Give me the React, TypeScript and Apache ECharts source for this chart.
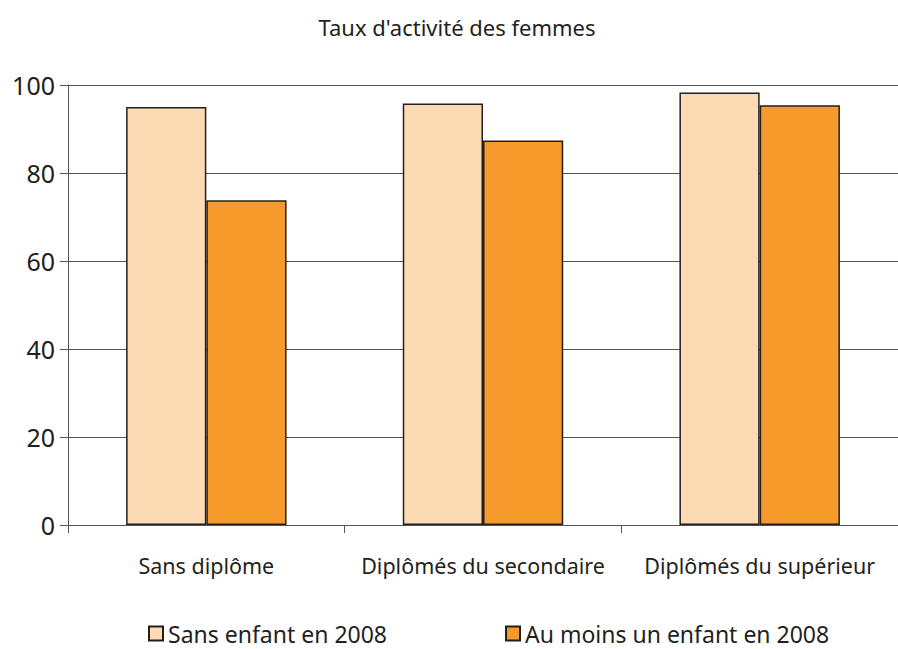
import React, { useEffect, useRef } from "react";
import * as echarts from "echarts";

const categories = ["Sans diplôme", "Diplômés du secondaire", "Diplômés du supérieur"];
const seriesNames = ["Sans enfant en 2008", "Au moins un enfant en 2008"];
const sansEnfant = [95.0, 95.8, 98.3];
const auMoinsUn = [73.8, 87.4, 95.4];
const yTicks = { min: 0, max: 100, interval: 20 };

export default function App() {
  const ref = useRef<HTMLDivElement>(null);
  useEffect(() => {
    const chart = echarts.init(ref.current!, null, { renderer: "svg" });
    const font = "'Noto Sans', sans-serif";
    chart.setOption({
      animation: false,
      backgroundColor: "#ffffff",
      title: {
        text: "Taux d'activité des femmes",
        left: 452,
        top: 11,
        textAlign: "center",
        textStyle: { fontFamily: font, fontSize: 22, fontWeight: "normal", color: "#231F20" },
      },
      legend: {
        data: seriesNames,
        bottom: -1,
        left: 143,
        icon: "rect",
        itemWidth: 14,
        itemHeight: 14,
        itemGap: 118,
        textStyle: { fontFamily: font, fontSize: 23, color: "#231F20" },
      },
      grid: { left: 68, top: 85, width: 837, height: 440, containLabel: false },
      xAxis: {
        type: "category",
        data: categories,
        axisLine: { lineStyle: { color: "#555555", width: 1 } },
        axisTick: { show: true, length: 8, lineStyle: { color: "#555555" } },
        axisLabel: { fontFamily: font, fontSize: 21.5, color: "#231F20", margin: 29, interval: 0 },
      },
      yAxis: {
        type: "value",
        min: yTicks.min,
        max: yTicks.max,
        interval: yTicks.interval,
        axisLine: { show: true, lineStyle: { color: "#555555", width: 1 } },
        axisTick: { show: true, length: 8, lineStyle: { color: "#555555" } },
        splitLine: { lineStyle: { color: "#555555", width: 1 } },
        axisLabel: { fontFamily: font, fontSize: 25, color: "#231F20", margin: 13 },
      },
      series: [
        {
          name: seriesNames[0],
          type: "bar",
          data: sansEnfant,
          barGap: "0%",
          barCategoryGap: "42%",
          itemStyle: { color: "#FCDAB4", borderColor: "#231F20", borderWidth: 1.5 },
        },
        {
          name: seriesNames[1],
          type: "bar",
          data: auMoinsUn,
          itemStyle: { color: "#F59A2B", borderColor: "#231F20", borderWidth: 1.5 },
        },
      ],
    });
    return () => chart.dispose();
  }, []);
  return <div ref={ref} style={{ width: 898, height: 649, position: "absolute", left: 0, top: 0 }} />;
}
